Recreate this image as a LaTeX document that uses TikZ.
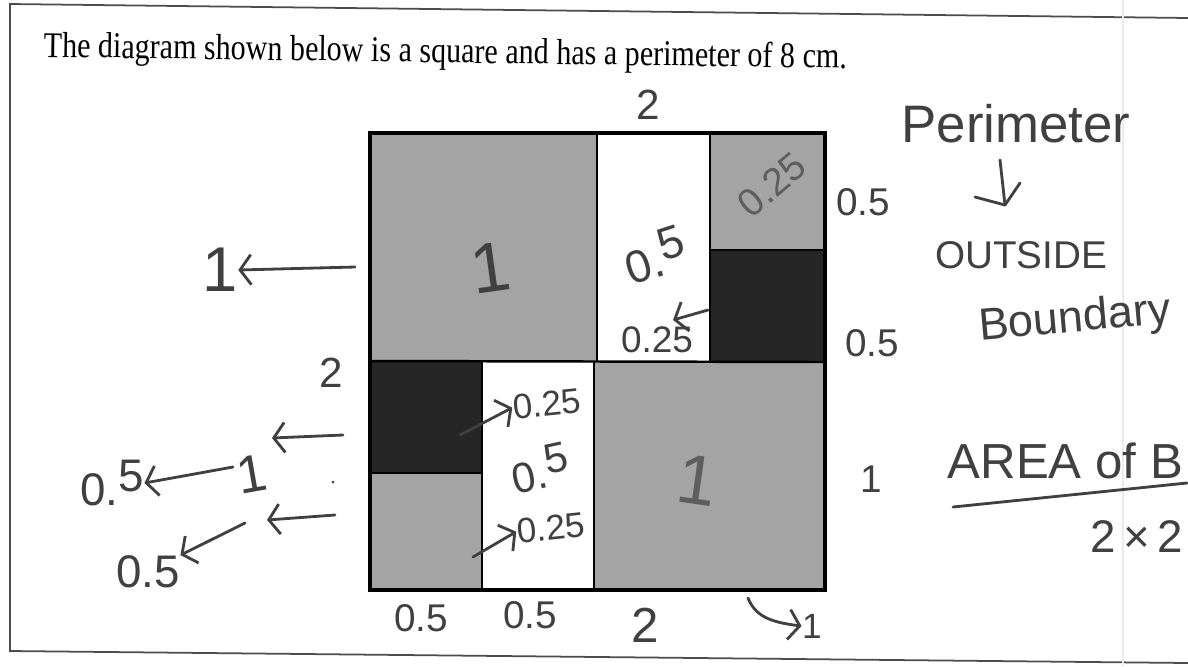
\documentclass[tikz,border=0pt]{standalone}
\usepackage{fontspec}
\setmainfont{Liberation Serif}
\newfontfamily\hand{Liberation Sans}
\usetikzlibrary{arrows.meta}
\definecolor{pen}{HTML}{404040}
\definecolor{penlight}{HTML}{5e5e5e}
\definecolor{cellgray}{HTML}{a4a4a4}
\definecolor{darkfill}{HTML}{262626}
\newcommand{\hsz}[1]{\fontsize{#1}{#1}\selectfont}
\newcommand{\rfive}{\raisebox{0.55ex}{5}}
\begin{document}
\begin{tikzpicture}[x=0.01cm,y=-0.01cm,
  hw/.style={font=\hand, text=pen, inner sep=0pt},
  hwl/.style={font=\hand, text=penlight, inner sep=0pt},
  harrow/.style={draw=pen, line width=0.8pt, line cap=round, -{Straight Barb[length=1.1mm,width=3mm]}},
  penline/.style={draw=pen, line width=0.8pt, line cap=round, line join=round},
  cell/.style={draw=black, line width=0.7pt},
]
\useasboundingbox (0,0) rectangle (1188,666);
\fill[white] (0,0) rectangle (1188,666);
% scanned page frame
\draw[black!70, line width=0.5pt] (10,652) -- (10,4) -- (1188,18);
\draw[black!70, line width=0.5pt] (10,651) -- (1188,663);
\draw[black!8, line width=0.4pt] (1123,0) -- (1123,666);

% printed question
\node[anchor=base west, inner sep=0pt, rotate=-0.8, font=\fontsize{10.3}{12}\selectfont] (title) at (43,57)
  {\scalebox{0.83}[1]{The diagram shown below is a square and has a perimeter of 8 cm.}};

% the square
\fill[cellgray] (370,133) rectangle (597,361);
\fill[white] (597,133) rectangle (710,361);
\fill[cellgray] (710,133) rectangle (825,250);
\fill[darkfill] (710,250) rectangle (825,362);
\fill[darkfill] (370,361) rectangle (482,473);
\fill[cellgray] (370,473) rectangle (482,590);
\fill[white] (482,361) rectangle (594,590);
\fill[cellgray] (594,362) rectangle (825,590);
\draw[cell] (370,361) -- (825,362);
\draw[cell] (597,133) -- (597,361);
\draw[cell] (710,133) -- (710,362);
\draw[cell] (710,250) -- (825,250);
\draw[cell] (482,361) -- (482,590);
\draw[cell] (594,361) -- (594,590);
\draw[cell] (370,473) -- (482,473);
\draw[black, line width=1pt] (370,133) rectangle (825,590);

% labels inside the square
\node[hw, rotate=8] (oneTL) at (490,268) {\hsz{20}1};
\node[hwl, rotate=-8] (oneBR) at (697,480) {\hsz{20}1};
\node[hw, rotate=18] (halfTW) at (655,255) {\hsz{13}0.\rfive};
\node[hw] (qTW) at (657,340) {\hsz{10.5}0.25};
\coordinate (aTWs) at (708,310);
\coordinate (aTWe) at (673,320);
\draw[harrow] (aTWs) -- (aTWe);
\node[hwl, rotate=40] (qTR) at (772,185) {\hsz{11}0.25};
\node[hw, rotate=6] (qBW1) at (547,404) {\hsz{10}0.25};
\coordinate (aBW1s) at (460,435);
\draw[harrow] (aBW1s) -- (qBW1.west);
\node[hw, rotate=12] (halfBW) at (540,468) {\hsz{12}0.\rfive};
\node[hw, rotate=6] (qBW2) at (551,528) {\hsz{10}0.25};
\coordinate (aBW2s) at (473,557);
\draw[harrow] (aBW2s) -- (qBW2.west);

% top and right dimensions
\node[hw] (topTwo) at (648,105) {\hsz{12}2};
\node[hw] (rHalf1) at (863,202) {\hsz{11}0.5};
\node[hw] (rHalf2) at (872,343) {\hsz{11}0.5};
\node[hw] (rOne) at (871,479) {\hsz{11}1};

% perimeter note
\node[hw] (perim) at (1016,124) {\hsz{15}Perimeter};
\coordinate (dTop) at (1000,160);
\coordinate (dTip) at (1005,205);
\coordinate (dL) at (975,197);
\coordinate (dR) at (1020,183);
\draw[penline] (dTop) -- (dTip);
\draw[penline] (dL) -- (dTip) -- (dR);
\node[hw] (outside) at (1021,255) {\hsz{11}OUTSIDE};
\node[hw, rotate=5] (bound) at (1075,320) {\hsz{12.8}Boundary};

% area note
\node[hw, anchor=base west] (area) at (947,478) {\hsz{14}AREA of B};
\coordinate (uL) at (953,507);
\coordinate (uR) at (1187,483);
\draw[penline] (uL) -- (uR);
\node[hw, anchor=east] (twoxtwo) at (1184,537) {\hsz{13}2\,{\texttimes}\,2};

% left notes
\node[hw] (lOne) at (220,270) {\hsz{18}1};
\coordinate (alOne) at (355,267);
\draw[harrow] (alOne) -- (lOne.east);
\node[hw] (lTwo) at (331,373) {\hsz{12}2};
\coordinate (a1s) at (343,435);
\coordinate (a1e) at (272,438);
\draw[harrow] (a1s) -- (a1e);
\coordinate (a2s) at (335,515);
\coordinate (a2e) at (267,520);
\draw[harrow] (a2s) -- (a2e);
\node[hw, rotate=10] (lOneB) at (252,474) {\hsz{15}1};
\node[hw] (lHalf1) at (112,483) {\hsz{13}0.\rfive};
\coordinate (a3s) at (233,467);
\draw[harrow] (a3s) -- (lHalf1.east);
\node[hw] (lHalf2) at (148,572) {\hsz{13}0.5};
\coordinate (a4s) at (245,523);
\draw[harrow] (a4s) -- (lHalf2.north east);
\fill[pen] (333,482) circle (1.5);

% bottom dimensions
\node[hw] (bHalf1) at (421,618) {\hsz{11}0.5};
\node[hw] (bHalf2) at (530,615) {\hsz{11}0.5};
\node[hw] (bTwo) at (645,625) {\hsz{14}2};
\node[hw] (bOne) at (812,626) {\hsz{10}1};
\coordinate (cs) at (748,598);
\draw[harrow] (cs) .. controls (755,615) and (768,622) .. (bOne.west);
\end{tikzpicture}
\end{document}
